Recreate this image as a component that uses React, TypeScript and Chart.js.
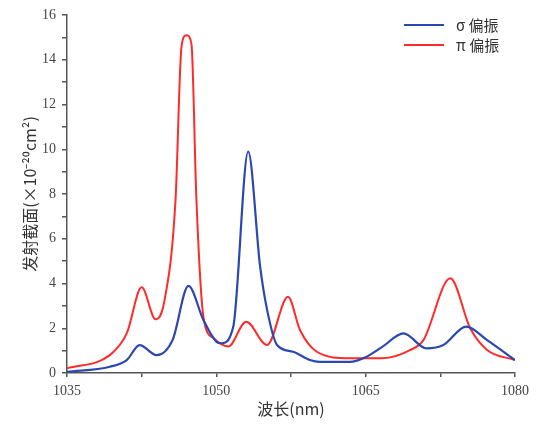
import React, { useEffect, useRef } from "react";
import { Chart, registerables } from "chart.js";

Chart.register(...registerables);

const sigmaX = [1035, 1039.3, 1041.0, 1042.3, 1044.0, 1045.6, 1047.2, 1048.7, 1050.0, 1050.5, 1051.7, 1053.2, 1054.4, 1055.1, 1056.1, 1057.7, 1059.4, 1060.4, 1063.4, 1065.1, 1066.7, 1068.8, 1071.1, 1072.8, 1075.1, 1077.2, 1080];
const sigmaY = [0.05, 0.28, 0.58, 1.25, 0.8, 1.47, 3.89, 2.37, 1.4, 1.33, 2.07, 9.89, 4.75, 2.82, 1.25, 0.95, 0.58, 0.5, 0.5, 0.73, 1.18, 1.77, 1.1, 1.25, 2.07, 1.47, 0.58];
const piX = [1035, 1039.3, 1041.0, 1042.5, 1043.9, 1044.8, 1045.9, 1046.5, 1047.0, 1047.5, 1048.0, 1048.7, 1049.7, 1051.2, 1053.0, 1055.1, 1057.2, 1058.4, 1060.1, 1063.4, 1066.7, 1069.5, 1070.8, 1073.5, 1075.5, 1077.2, 1080];
const piY = [0.21, 0.8, 1.77, 3.83, 2.4, 3.26, 7.73, 14.58, 15.1, 14.7, 7.73, 2.52, 1.56, 1.18, 2.29, 1.25, 3.41, 1.92, 0.95, 0.66, 0.66, 1.03, 1.47, 4.23, 2.0, 1.03, 0.58];
const seriesNames = ["σ 偏振", "π 偏振"];
const xTickLabels = [1035, 1050, 1065, 1080];
const yTickLabels = [0, 2, 4, 6, 8, 10, 12, 14, 16];

const BLUE = "#2a48b0";
const RED = "#ff2a2a";

export default function App() {
  const ref = useRef<HTMLCanvasElement>(null);
  useEffect(() => {
    const legendPlugin = {
      id: "customLegend",
      afterDraw(chart: any) {
        const ctx = chart.ctx;
        ctx.save();
        const items = [
          { name: seriesNames[0], color: BLUE, y: 25 },
          { name: seriesNames[1], color: RED, y: 45 },
        ];
        items.forEach((it) => {
          ctx.strokeStyle = it.color;
          ctx.lineWidth = 2;
          ctx.beginPath();
          ctx.moveTo(404, it.y);
          ctx.lineTo(444, it.y);
          ctx.stroke();
          ctx.fillStyle = "#333";
          ctx.font = "15px 'Noto Sans CJK SC'";
          ctx.textBaseline = "middle";
          ctx.fillText(it.name, 456, it.y);
        });
        ctx.restore();
      },
    };
    const chart = new Chart(ref.current!, {
      type: "line",
      data: {
        datasets: [
          {
            label: seriesNames[0],
            data: sigmaX.map((x, i) => ({ x, y: sigmaY[i] })),
            borderColor: BLUE,
            borderWidth: 2.2,
            pointRadius: 0,
            tension: 0.4,
            cubicInterpolationMode: "monotone",
          },
          {
            label: seriesNames[1],
            data: piX.map((x, i) => ({ x, y: piY[i] })),
            borderColor: RED,
            borderWidth: 2,
            pointRadius: 0,
            tension: 0.4,
            cubicInterpolationMode: "monotone",
          },
        ],
      },
      options: {
        animation: false,
        responsive: false,
        layout: { padding: { left: 16, top: 15, right: 22, bottom: 10 } },
        plugins: { legend: { display: false }, tooltip: { enabled: false } },
        scales: {
          x: {
            type: "linear",
            min: 1035,
            max: 1080,
            afterFit: (s: any) => { s.height = 50; },
            afterBuildTicks: (s: any) => {
              const t = [];
              for (let v = 1035; v <= 1080; v += 7.5) t.push({ value: v });
              s.ticks = t;
            },
            ticks: {
              autoSkip: false,
              maxRotation: 0,
              color: "#444",
              font: { family: "'Liberation Serif'", size: 14 },
              padding: 6,
              callback: (v: any) => (xTickLabels.includes(Number(v)) ? String(v) : ""),
            },
            grid: { drawOnChartArea: false, tickLength: 4, color: "#555", lineWidth: 1.5 },
            border: { color: "#555", width: 1.5 },
            title: {
              display: true,
              text: "波长(nm)",
              color: "#333",
              font: { family: "'Noto Sans CJK SC'", size: 16 },
              padding: { top: 2 },
            },
          },
          y: {
            min: 0,
            max: 16,
            afterFit: (s: any) => { s.width = 51; },
            afterBuildTicks: (s: any) => {
              const t = [];
              for (let v = 0; v <= 16; v += 1) t.push({ value: v });
              s.ticks = t;
            },
            ticks: {
              autoSkip: false,
              color: "#444",
              font: { family: "'Liberation Serif'", size: 14 },
              padding: 6,
              callback: (v: any) => (yTickLabels.includes(Number(v)) ? String(v) : ""),
            },
            grid: { drawOnChartArea: false, tickLength: 5, color: "#555", lineWidth: 1.5 },
            border: { color: "#555", width: 1.5 },
            title: {
              display: true,
              text: "发射截面(×10⁻²⁰cm²)",
              color: "#333",
              font: { family: "'Noto Sans CJK SC'", size: 16 },
              padding: { bottom: 2 },
            },
          },
        },
      },
      plugins: [legendPlugin],
    });
    return () => chart.destroy();
  }, []);
  return (
    <div style={{ position: "absolute", left: 0, top: 0, width: 537, height: 433, background: "#fff" }}>
      <canvas ref={ref} width={537} height={433} style={{ width: 537, height: 433 }} />
    </div>
  );
}
